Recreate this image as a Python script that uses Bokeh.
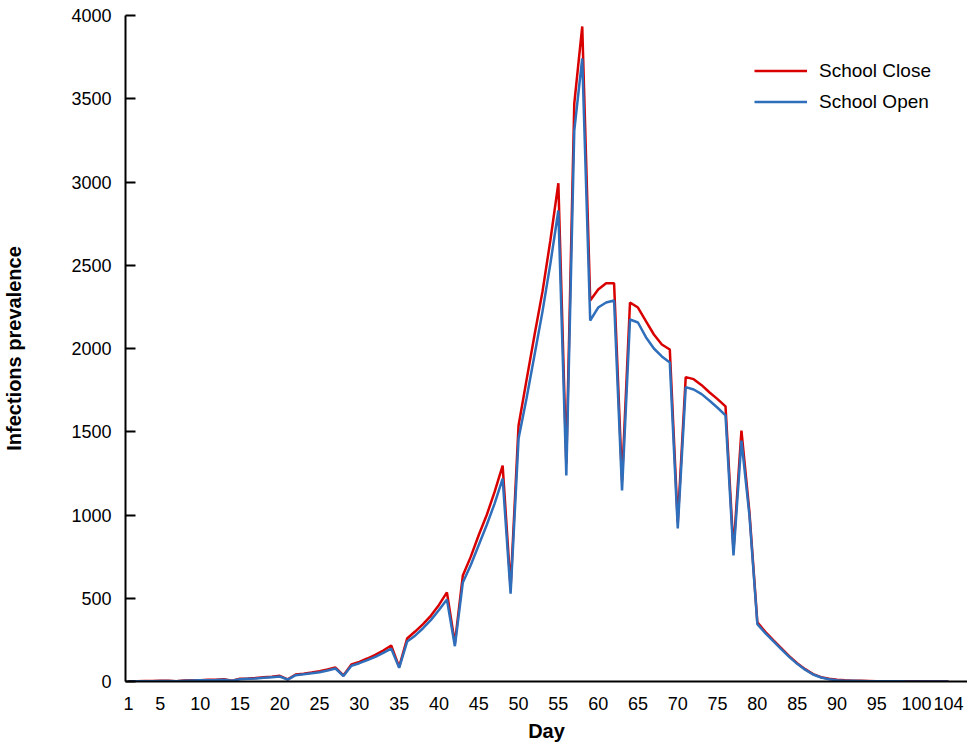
from bokeh.plotting import figure
from bokeh.models import Range1d, FixedTicker, Legend, LegendItem
from bokeh.embed import file_html
from bokeh.resources import INLINE

days = list(range(1, 105))

school_close = [
    1, 2, 3, 3, 4, 4, 2, 6, 7, 8,
    10, 11, 13, 5, 16, 18, 21, 25, 29, 34,
    13, 42, 47, 54, 62, 72, 84, 36, 102, 118,
    138, 160, 186, 216, 88, 258, 300, 345, 396, 460,
    535, 230, 637, 750, 880, 1000, 1140, 1297, 565, 1538,
    1810, 2080, 2340, 2650, 2993, 1309, 3471, 3934, 2288, 2354,
    2392, 2392, 1207, 2276, 2246, 2164, 2084, 2024, 1994, 957,
    1828, 1816, 1780, 1736, 1696, 1652, 790, 1507, 1020, 355,
    298, 248, 200, 152, 110, 74, 44, 26, 16, 10,
    7, 5, 4, 3, 2, 2, 1, 1, 1, 1,
    0, 0, 0, 0,
]

school_open = [
    1, 1, 2, 2, 3, 3, 1, 5, 6, 7,
    8, 9, 11, 4, 14, 16, 18, 22, 26, 30,
    11, 38, 43, 49, 56, 66, 78, 33, 95, 110,
    128, 148, 172, 198, 82, 240, 275, 320, 370, 430,
    492, 212, 595, 700, 820, 940, 1070, 1219, 528, 1459,
    1700, 1960, 2220, 2510, 2829, 1237, 3309, 3742, 2168, 2246,
    2276, 2288, 1147, 2174, 2156, 2068, 2000, 1952, 1916, 919,
    1768, 1754, 1726, 1686, 1644, 1598, 757, 1447, 1000, 345,
    290, 242, 195, 148, 106, 71, 42, 24, 14, 8,
    5, 4, 3, 2, 1, 1, 1, 1, 0, 0,
    0, 0, 0, 0,
]

x_ticks = [1, 5, 10, 15, 20, 25, 30, 35, 40, 45, 50, 55, 60, 65, 70, 75, 80, 85, 90, 95, 100, 104]
y_ticks = [0, 500, 1000, 1500, 2000, 2500, 3000, 3500, 4000]

FONT = "Liberation Sans"

p = figure(
    frame_width=842, frame_height=666,
    min_border_left=125, min_border_top=15, min_border_right=0, min_border_bottom=10,
    x_range=Range1d(0.62, 106.4), y_range=Range1d(0, 4000),
    output_backend="svg", toolbar_location=None,
)
p.outline_line_color = None
p.grid.visible = False
p.background_fill_color = "white"
p.border_fill_color = "white"

r_close = p.line(days, school_close, line_color="#D90000", line_width=2.5)
r_open = p.line(days, school_open, line_color="#2F6EBA", line_width=2.5)

# x axis
xa = p.xaxis[0]
xa.ticker = FixedTicker(ticks=x_ticks)
xa.major_tick_in = 0
xa.major_tick_out = 0
xa.minor_tick_in = 0
xa.minor_tick_out = 0
xa.axis_line_width = 2
xa.axis_line_color = "black"
xa.major_label_text_font = FONT
xa.major_label_text_font_size = "18px"
xa.major_label_text_color = "black"
xa.major_label_standoff = 15
xa.axis_label = "Day"
xa.axis_label_text_font = FONT
xa.axis_label_text_font_style = "bold"
xa.axis_label_text_font_size = "20px"
xa.axis_label_text_color = "black"
xa.axis_label_standoff = 7

# y axis
ya = p.yaxis[0]
ya.ticker = FixedTicker(ticks=y_ticks)
ya.major_tick_in = 10
ya.major_tick_out = 0
ya.minor_tick_in = 0
ya.minor_tick_out = 0
ya.major_tick_line_width = 2
ya.axis_line_width = 2
ya.axis_line_color = "black"
ya.major_label_text_font = FONT
ya.major_label_text_font_size = "18px"
ya.major_label_text_color = "black"
ya.major_label_standoff = 14
ya.axis_label = "Infections prevalence"
ya.axis_label_text_font = FONT
ya.axis_label_text_font_style = "bold"
ya.axis_label_text_font_size = "20px"
ya.axis_label_text_color = "black"
ya.axis_label_standoff = 43

legend = Legend(
    items=[
        LegendItem(label="School Close", renderers=[r_close]),
        LegendItem(label="School Open", renderers=[r_open]),
    ],
    location=(629, 564),
    glyph_width=53, glyph_height=31, label_height=31,
    label_standoff=12, spacing=0, padding=0, margin=0,
    label_text_font=FONT, label_text_font_size="19px", label_text_color="black",
    border_line_color=None, background_fill_alpha=0,
)
p.add_layout(legend, "center")

open("out.html", "w").write(file_html(p, INLINE))
